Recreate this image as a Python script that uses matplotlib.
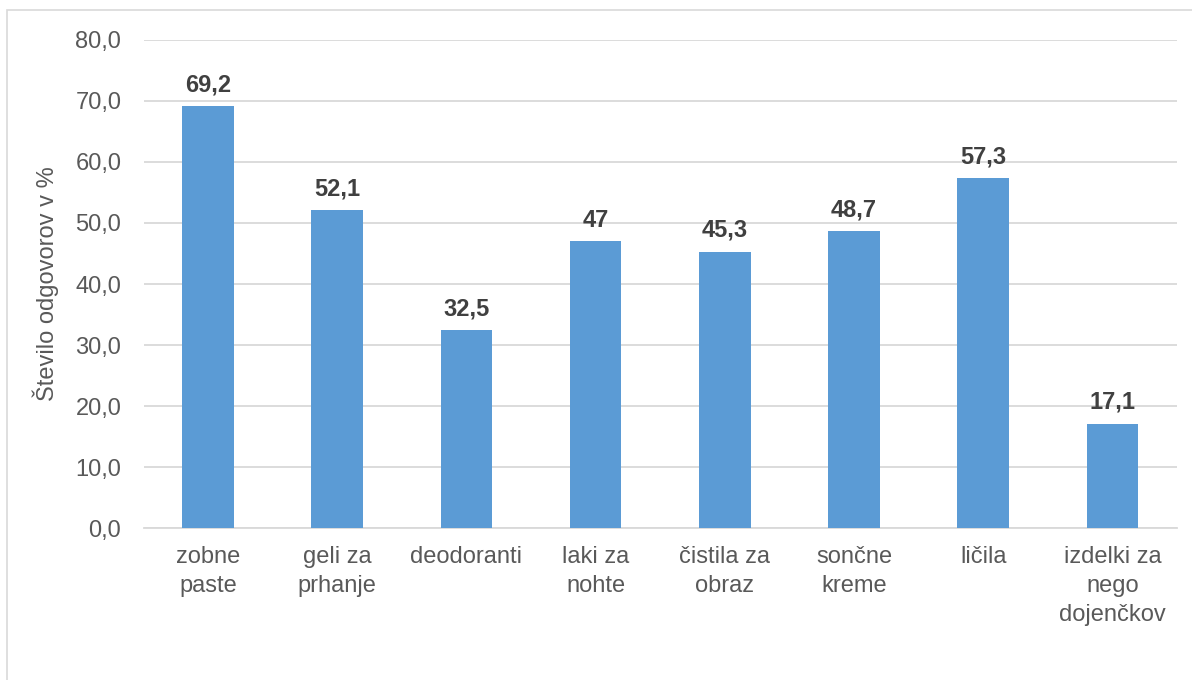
import matplotlib
matplotlib.use("Agg")
import matplotlib.pyplot as plt
from matplotlib.patches import Rectangle

plt.rcParams['font.family'] = ['Liberation Sans', 'DejaVu Sans']

# Product categories and share of answers (%)
categories = [
    "zobne\npaste",
    "geli za\nprhanje",
    "deodoranti",
    "laki za\nnohte",
    "čistila za\nobraz",
    "sončne\nkreme",
    "ličila",
    "izdelki za\nnego\ndojenčkov",
]
values = [69.2, 52.1, 32.5, 47.0, 45.3, 48.7, 57.3, 17.1]
value_labels = ["69,2", "52,1", "32,5", "47", "45,3", "48,7", "57,3", "17,1"]
y_ticks = [0, 10, 20, 30, 40, 50, 60, 70, 80]

bar_color = "#5B9BD5"
grid_color = "#D9D9D9"
tick_color = "#595959"
label_color = "#404040"

fig = plt.figure(figsize=(11.92, 6.8), dpi=100)
ax = fig.add_axes([0.1204, 0.2235, 0.867, 0.7177])

# light frame around the chart area
fig.patches.append(Rectangle((7 / 1192, -0.1), 1.2, 1.1 - 10 / 680,
                             transform=fig.transFigure, fill=False,
                             edgecolor=grid_color, linewidth=1.2))

x = list(range(len(categories)))
bars = ax.bar(x, values, width=0.4, color=bar_color, zorder=3)

for xi, v, lab in zip(x, values, value_labels):
    ax.annotate(lab, (xi, v), xytext=(0, 7), textcoords="offset points",
                ha="center", va="bottom", fontsize=17, fontweight="bold",
                color=label_color)

ax.set_xlim(-0.5, len(categories) - 0.5)
ax.set_ylim(0, 80)
ax.set_yticks(y_ticks)
ax.set_yticklabels([f"{t:.1f}".replace(".", ",") for t in y_ticks])
ax.set_xticks(x)
ax.set_xticklabels(categories, linespacing=1.4)

ax.tick_params(axis="both", length=0, labelsize=17, labelcolor=tick_color)
ax.tick_params(axis="y", pad=16)
ax.tick_params(axis="x", pad=13)

ax.yaxis.grid(True, color=grid_color, linewidth=1.3, zorder=0)
for side in ["top", "right", "left"]:
    ax.spines[side].set_visible(False)
ax.spines["bottom"].set_color(grid_color)
ax.spines["bottom"].set_linewidth(1.3)

ax.set_ylabel("Število odgovorov v %", fontsize=17, color=tick_color, labelpad=12)

fig.savefig("out.png", dpi=100)
